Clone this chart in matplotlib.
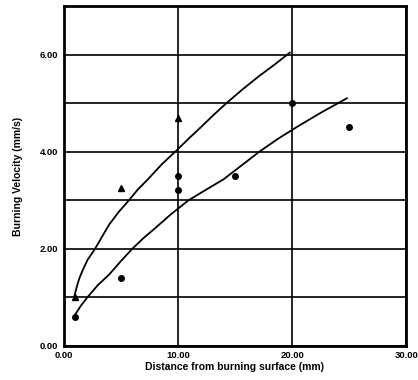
import matplotlib.pyplot as plt
from matplotlib.ticker import FixedLocator

plt.rcParams['font.family'] = ['Liberation Sans', 'DejaVu Sans']

# measured points
tri_x = [1, 5, 10]
tri_y = [1.0, 3.25, 4.7]
dot_x = [1, 5, 10, 10, 15, 20, 25]
dot_y = [0.6, 1.4, 3.5, 3.2, 3.5, 5.0, 4.5]

# fitted curves
upper_x = [0.93, 1.05, 1.2, 1.4, 1.7, 2.1, 2.76, 3.4, 4.0, 4.8, 5.73, 6.5, 7.38,
           8.6, 10.0, 11.0, 12.0, 13.1, 14.26, 15.7, 17.13, 18.5, 19.8]
upper_y = [1.0, 1.12, 1.25, 1.4, 1.57, 1.77, 2.0, 2.26, 2.5, 2.75, 3.0, 3.22, 3.43,
           3.74, 4.05, 4.28, 4.5, 4.75, 5.0, 5.29, 5.56, 5.8, 6.04]
lower_x = [0.93, 1.5, 2.09, 3.0, 4.0, 5.0, 6.02, 7.0, 8.0, 9.4, 10.95, 12.5, 14.0,
           15.6, 17.14, 18.8, 20.5, 22.5, 24.8]
lower_y = [0.61, 0.82, 1.0, 1.25, 1.47, 1.74, 2.0, 2.22, 2.42, 2.71, 3.0, 3.22, 3.43,
           3.72, 4.0, 4.27, 4.52, 4.8, 5.1]

fig = plt.figure(figsize=(4.18, 3.8), dpi=100)
ax = fig.add_axes([0.152, 0.09, 0.820, 0.894])

ax.plot(upper_x, upper_y, color='black', lw=1.3)
ax.plot(lower_x, lower_y, color='black', lw=1.3)
ax.plot(tri_x, tri_y, '^', color='black', ms=4.5, ls='none')
ax.plot(dot_x, dot_y, 'o', color='black', ms=4, ls='none')

ax.set_xlim(0, 30)
ax.set_ylim(0, 7)
ax.xaxis.set_major_locator(FixedLocator([0, 10, 20, 30]))
ax.yaxis.set_major_locator(FixedLocator([0, 2, 4, 6]))
ax.yaxis.set_minor_locator(FixedLocator([1, 3, 5]))
ax.set_xticklabels(['0.00', '10.00', '20.00', '30.00'])
ax.set_yticklabels(['0.00', '2.00', '4.00', '6.00'])
ax.grid(True, which='both', color='black', lw=1.2)
ax.tick_params(which='both', length=0, labelsize=6.8, pad=4)
for lbl in ax.get_xticklabels() + ax.get_yticklabels():
    lbl.set_fontweight('bold')
for s in ax.spines.values():
    s.set_linewidth(2)

ax.set_xlabel('Distance from burning surface (mm)', fontsize=7.5, fontweight='bold', labelpad=1)
ax.set_ylabel('Burning Velocity (mm/s)', fontsize=7.5, fontweight='bold', labelpad=12)

fig.savefig('out.png', dpi=100)
